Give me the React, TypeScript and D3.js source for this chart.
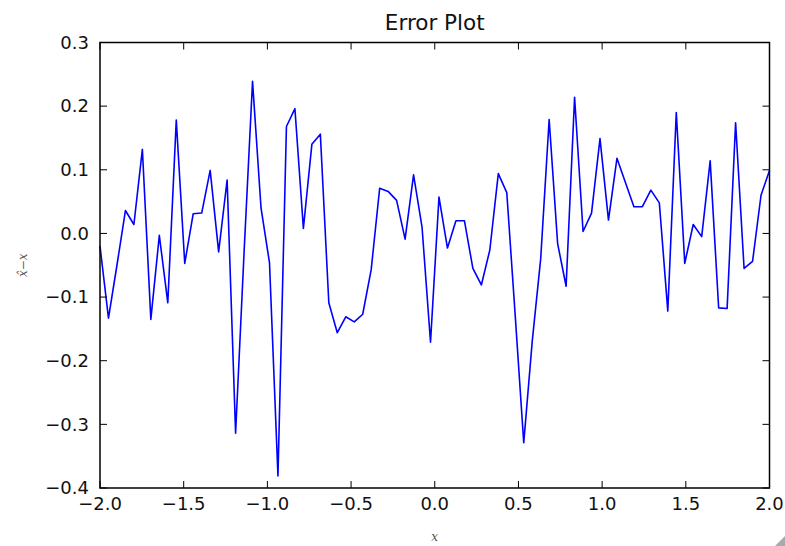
import React from "react";
import * as d3 from "d3";

// Residuals x̂ − x sampled on an even grid over [-2, 2]
const xDomain: [number, number] = [-2, 2];
const sampleCount = 80;
const errorValues: number[] = [
  -0.02, -0.133, -0.05, 0.036, 0.014, 0.132, -0.135, -0.003, -0.109, 0.178,
  -0.047, 0.031, 0.032, 0.099, -0.029, 0.084, -0.314, -0.03, 0.239, 0.04,
  -0.046, -0.381, 0.168, 0.196, 0.008, 0.14, 0.156, -0.109, -0.156, -0.131,
  -0.139, -0.127, -0.057, 0.071, 0.066, 0.052, -0.009, 0.092, 0.01, -0.171,
  0.057, -0.023, 0.02, 0.02, -0.055, -0.081, -0.026, 0.094, 0.064, -0.13,
  -0.329, -0.17, -0.04, 0.179, -0.016, -0.083, 0.214, 0.003, 0.032, 0.149,
  0.021, 0.118, 0.08, 0.042, 0.042, 0.068, 0.048, -0.122, 0.19, -0.047,
  0.014, -0.005, 0.114, -0.117, -0.118, 0.174, -0.055, -0.044, 0.06, 0.099,
];
const xTicks = [-2.0, -1.5, -1.0, -0.5, 0.0, 0.5, 1.0, 1.5, 2.0];
const yTicks = [-0.4, -0.3, -0.2, -0.1, 0.0, 0.1, 0.2, 0.3];
const title = "Error Plot";

const W = 785;
const H = 546;
const margin = { left: 100, right: 15.5, top: 42.5, bottom: 58 };
const font = "'DejaVu Sans', sans-serif";
const tickLen = 7;

export default function App() {
  const x = d3
    .scaleLinear()
    .domain(xDomain)
    .range([margin.left, W - margin.right]);
  const y = d3
    .scaleLinear()
    .domain([-0.4, 0.3])
    .range([H - margin.bottom, margin.top]);

  const samples = errorValues.map((v, i) => ({
    x: xDomain[0] + ((xDomain[1] - xDomain[0]) * i) / (sampleCount - 1),
    v,
  }));

  const line = d3
    .line<{ x: number; v: number }>()
    .x((d) => x(d.x))
    .y((d) => y(d.v));

  const fmt = (t: number) => d3.format(".1f")(t).replace("-", "\u2212");
  const [x0, x1] = x.range();
  const [y0, y1] = y.range();

  return (
    <svg
      width={W}
      height={H}
      style={{ position: "absolute", left: 0, top: 0, background: "#fff" }}
    >
      <path
        d={line(samples) ?? ""}
        fill="none"
        stroke="#0000ff"
        strokeWidth={1.6}
        strokeLinejoin="round"
      />

      {/* ticks on all four sides, pointing inward */}
      {xTicks.map((t) => (
        <g key={"xt" + t}>
          <line x1={x(t)} x2={x(t)} y1={y0} y2={y0 - tickLen} stroke="#000" strokeWidth={1} />
          <line x1={x(t)} x2={x(t)} y1={y1} y2={y1 + tickLen} stroke="#000" strokeWidth={1} />
          <text
            x={x(t)}
            y={y0 + 22}
            textAnchor="middle"
            fontFamily={font}
            fontSize={18}
            fill="#111"
          >
            {fmt(t)}
          </text>
        </g>
      ))}
      {yTicks.map((t) => (
        <g key={"yt" + t}>
          <line x1={x0} x2={x0 + tickLen} y1={y(t)} y2={y(t)} stroke="#000" strokeWidth={1} />
          <line x1={x1} x2={x1 - tickLen} y1={y(t)} y2={y(t)} stroke="#000" strokeWidth={1} />
          <text
            x={x0 - 11}
            y={y(t)}
            dy="0.35em"
            textAnchor="end"
            fontFamily={font}
            fontSize={18}
            fill="#111"
          >
            {fmt(t)}
          </text>
        </g>
      ))}

      <rect
        x={x0}
        y={y1}
        width={x1 - x0}
        height={y0 - y1}
        fill="none"
        stroke="#000"
        strokeWidth={1.5}
      />

      <text
        x={(x0 + x1) / 2}
        y={30}
        textAnchor="middle"
        fontFamily={font}
        fontSize={21.5}
        fill="#111"
      >
        {title}
      </text>

      <text
        x={(x0 + x1) / 2}
        y={541}
        textAnchor="middle"
        fontFamily="'DejaVu Serif', serif"
        fontStyle="italic"
        fontSize={12}
        fill="#555"
      >
        x
      </text>

      <text
        transform={`translate(27, ${(y0 + y1) / 2}) rotate(-90)`}
        textAnchor="middle"
        fontFamily="'DejaVu Serif', serif"
        fontStyle="italic"
        fontSize={12}
        fill="#555"
      >
        {"x\u0302\u2212x"}
      </text>

      {/* resize grip in the lower right corner */}
      <path d="M785,536 L785,546 L775,546 Z" fill="#aaa" />
    </svg>
  );
}
